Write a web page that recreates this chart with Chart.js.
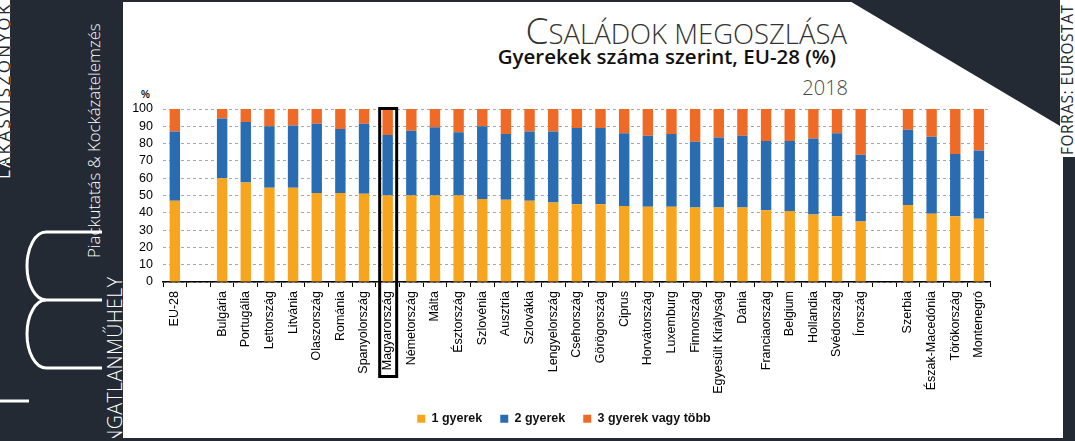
<!DOCTYPE html>
<html>
<head>
<meta charset="utf-8">
<script src="https://cdn.jsdelivr.net/npm/chart.js@4.4.1/dist/chart.umd.min.js"></script>
<style>
 body{margin:0;width:1075px;height:441px;overflow:hidden;background:#fff;position:relative;font-family:"Open Sans",sans-serif}
 .abs{position:absolute}
 .rot{position:absolute;transform-origin:0 0;transform:rotate(-90deg);white-space:nowrap;line-height:1}
 #side{left:0;top:0;width:123px;height:441px;background:#232a33;overflow:hidden}
 #topline{left:123px;top:0;width:730px;height:2px;background:#232a33}
 #botline{left:0;top:438px;width:1075px;height:3px;background:#232a33}
 #tri{left:848px;top:0;width:212px;height:126px;background:#232a33;clip-path:polygon(0 0,100% 0,100% 100%)}
 #rstrip{left:1063px;top:157px;width:12px;height:284px;background:#232a33}
 #title{right:228px;top:4px;color:#333;font-weight:300;white-space:nowrap}
 #sub{right:239px;top:42px;color:#111;font-weight:600;font-size:20.5px;white-space:nowrap}
 #year{right:227px;top:74px;color:#4a4a4a;font-weight:300;font-size:20px}
 #pct{left:141px;top:89px;font:bold 10px "Liberation Sans",Arial,sans-serif;color:#111}
 #wrap{left:122px;top:90px;width:876px;height:345px}
 .lak{left:-5px;top:179px;font-size:17px;letter-spacing:2.4px}
</style>
</head>
<body>
<div id="side" class="abs">
 <div class="rot lak" style="color:#fff">LAKASVISZONYOK</div>
 <div class="rot" style="left:86px;top:258px;font-size:16.8px;color:#fff;font-weight:300">Piackutatás &amp; Kockázatelemzés</div>
 <div class="rot" style="left:104.6px;top:449px;font-size:19.5px;color:#fff;font-weight:300;letter-spacing:0.4px">INGATLANMŰHELY</div>
 <svg class="abs" style="left:0;top:220px" width="110" height="200">
  <g fill="none" stroke="#fff" stroke-width="3">
   <path d="M102,148 L46,148 A19,34 0 0 1 46,80 L102,80"/>
   <path d="M46,80 A19,34 0 0 1 46,12 L102,12"/>
   <path d="M0,181 L29,181"/>
  </g>
 </svg>
</div>
<div class="abs" style="left:0;top:0;width:10px;height:163px;background:#fff;overflow:hidden">
 <div class="rot lak" style="color:#232a33">LAKASVISZONYOK</div>
</div>
<div id="topline" class="abs"></div>
<div id="tri" class="abs"></div>
<div id="rstrip" class="abs"></div>
<div class="rot" style="left:1060.3px;top:155px;font-size:15.5px;color:#232a33;letter-spacing:0.5px">FORRÁS: EUROSTAT</div>
<div id="title" class="abs"><span style="font-size:37px">C</span><span style="font-size:27.5px">SALÁDOK MEGOSZLÁSA</span></div>
<div id="sub" class="abs">Gyerekek száma szerint, EU-28 (%)</div>
<div id="year" class="abs">2018</div>
<div id="pct" class="abs">%</div>
<div id="wrap" class="abs"><canvas id="chart"></canvas></div>
<div id="botline" class="abs"></div>
<script>
const orszagok=["EU-28","","Bulgária","Portugália","Lettország","Litvánia","Olaszország","Románia","Spanyolország","Magyarország","Németország","Málta","Észtország","Szlovénia","Ausztria","Szlovákia","Lengyelország","Csehország","Görögország","Ciprus","Horvátország","Luxemburg","Finnország","Egyesült Királyság","Dánia","Franciaország","Belgium","Hollandia","Svédország","Írország","","Szerbia","Észak-Macedónia","Törökország","Montenegró"];
const egy=[47,null,60,57.5,54.5,54.5,51.5,51.5,51,50,50,50,50,48,47.5,47,46,45,45,44,43.5,43.5,43,43,43,41.5,41,39,38,35,null,44.5,39.5,38,36.5];
const ketto=[40,null,34.5,35,35.5,36,40,37,40.5,35,37.5,39.5,36.5,42,38,40,41,44,44,42,41,42,38,40.5,41.5,40,40.5,44,48,38.5,null,43.5,44.5,36,39.5];
const harom=[13,null,5.5,7.5,10,9.5,8.5,11.5,8.5,15,12.5,10.5,13.5,10,14.5,13,13,11,11,14,15.5,14.5,19,16.5,15.5,18.5,18.5,17,14,26.5,null,12,16,26,24];
const sorozatNevek=["1 gyerek","2 gyerek","3 gyerek vagy több"];
const szinek=["#f7a51e","#2a6cb2","#ef6a27"];
const kiemelt="Magyarország";

const font='"Liberation Sans", Arial, sans-serif';

// fekete keret a kiemelt orszag korul
const keret={
 id:"keret",
 afterLayout(c){ // jelmagyarazat kicsit jobbra
  c.legend.left+=7;c.legend.right+=7;
 },
 afterDatasetsDraw(c){
  const i=orszagok.indexOf(kiemelt);
  const x=c.scales.x.getPixelForValue(i);
  const a=c.chartArea, ctx=c.ctx;
  ctx.save();
  ctx.strokeStyle="#000";ctx.lineWidth=3;
  ctx.strokeRect(x-8,a.top-0.5,17,a.bottom-a.top+95);
  ctx.restore();
 }
};

new Chart(document.getElementById("chart"),{
 type:"bar",
 data:{labels:orszagok,datasets:[egy,ketto,harom].map((d,k)=>({
  label:sorozatNevek[k],data:d,backgroundColor:szinek[k],
  barPercentage:0.44,categoryPercentage:1
 }))},
 options:{
  responsive:true,maintainAspectRatio:false,animation:false,
  layout:{padding:{top:19,right:6,left:0,bottom:0}},
  plugins:{
   tooltip:{enabled:false},
   legend:{position:"bottom",labels:{boxWidth:8,boxHeight:8,padding:18,color:"#111",font:{family:font,size:12.5,weight:"bold"}}}
  },
  scales:{
   x:{stacked:true,
    grid:{drawOnChartArea:false,drawTicks:true,tickLength:5,color:"#000",offset:true},
    border:{color:"#000",width:1.5},
    ticks:{minRotation:90,maxRotation:90,autoSkip:false,padding:4,color:"#000",font:{family:font,size:12.5}},
    afterFit(s){s.height=112.5}
   },
   y:{stacked:true,min:0,max:100,
    grid:{color:"#a8a8a8",drawTicks:false},
    border:{display:false,dash:[3,3]},
    ticks:{stepSize:10,autoSkip:false,padding:10,color:"#000",font:{family:font,size:12.5}},
    afterFit(s){s.width=41}
   }
  }
 },
 plugins:[keret]
});
</script>
</body>
</html>
